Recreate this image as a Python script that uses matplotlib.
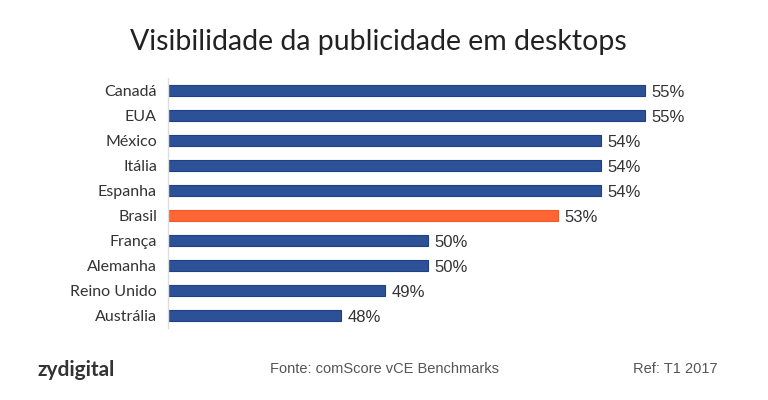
import matplotlib
matplotlib.use("Agg")
import matplotlib.pyplot as plt

countries = ["Canadá", "EUA", "México", "Itália", "Espanha", "Brasil",
             "França", "Alemanha", "Reino Unido", "Austrália"]
values = [55, 55, 54, 54, 54, 53, 50, 50, 49, 48]
highlight = "Brasil"

W, H = 768, 400
fig = plt.figure(figsize=(W / 100, H / 100), dpi=100)
fig.patch.set_facecolor("white")

left, right = 168, 688
top, bottom = 78, 328
ax = fig.add_axes([left / W, 1 - bottom / H, (right - left) / W, (bottom - top) / H])

colors = ["#FF6633" if c == highlight else "#2D5196" for c in countries]
edges = ["#F05A28" if c == highlight else "#1F3F86" for c in countries]
y = list(range(len(countries)))
ax.barh(y, [v - 44 for v in values], left=44, height=0.46, color=colors,
        edgecolor=edges, linewidth=0.8)
ax.set_xlim(44, 56)
ax.set_ylim(len(countries) - 0.5, -0.5)
ax.set_yticks(y)
ax.set_yticklabels(countries, fontsize=11.5, color="#333333", family="Lato")
ax.tick_params(axis="y", length=0, pad=8)
ax.set_xticks([])
for s in ["top", "right", "bottom"]:
    ax.spines[s].set_visible(False)
ax.spines["left"].set_color("#DDDDDD")
ax.spines["left"].set_linewidth(1)

for yi, v in zip(y, values):
    ax.text(v + 0.15, yi + 0.08, f"{v}%", va="center", ha="left", fontsize=12,
            color="#333333", family="Liberation Sans")

fig.text(0.493, 1 - 42 / H, "Visibilidade da publicidade em desktops",
         ha="center", va="center", fontsize=20.5,
         color="#222222", family="Lato")
fig.text(37 / W, 1 - 370 / H, "zydigital", ha="left", va="center",
         fontsize=15, fontweight="bold", color="#333333", family="Lato")
fig.text(384 / W, 1 - 369 / H, "Fonte: comScore vCE Benchmarks", ha="center",
         va="center", fontsize=10.5, color="#555555", family="Liberation Sans")
fig.text(718 / W, 1 - 369 / H, "Ref: T1 2017", ha="right", va="center",
         fontsize=10.5, color="#555555", family="Liberation Sans")

fig.savefig("out.png", dpi=100, facecolor="white")
